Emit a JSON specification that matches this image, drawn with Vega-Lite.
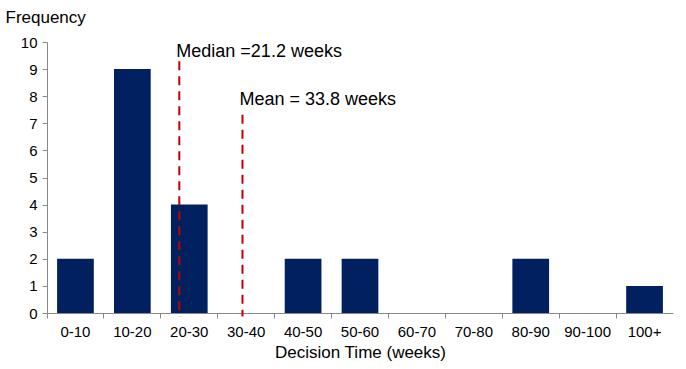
{
  "$schema": "https://vega.github.io/schema/vega-lite/v6.json",
  "width": 626,
  "height": 271,
  "autosize": {"type": "none"},
  "padding": {"left": 47, "top": 42, "right": 13, "bottom": 56},
  "background": "white",
  "config": {
    "view": {"stroke": null},
    "font": "Liberation Sans",
    "axis": {"grid": false, "domainColor": "#888888", "tickColor": "#888888", "labelColor": "#000000", "titleColor": "#000000", "labelFont": "Liberation Sans", "titleFont": "Liberation Sans", "titleFontWeight": "normal"}
  },
  "datasets": {
    "bins": [
      {"cat": "0-10", "freq": 2},
      {"cat": "10-20", "freq": 9},
      {"cat": "20-30", "freq": 4},
      {"cat": "30-40", "freq": 0},
      {"cat": "40-50", "freq": 2},
      {"cat": "50-60", "freq": 2},
      {"cat": "60-70", "freq": 0},
      {"cat": "70-80", "freq": 0},
      {"cat": "80-90", "freq": 2},
      {"cat": "90-100", "freq": 0},
      {"cat": "100+", "freq": 1}
    ],
    "median": [{"cat": "20-30", "top": 9.29, "bottom": -0.13, "ty": 9.62, "label": "Median =21.2 weeks"}],
    "mean": [{"cat": "30-40", "top": 7.32, "bottom": -0.13, "ty": 7.85, "label": "Mean = 33.8 weeks"}]
  },
  "layer": [
    {
      "data": {"name": "bins"},
      "mark": {"type": "bar", "color": "#002060", "width": {"band": 0.645}},
      "encoding": {
        "x": {
          "field": "cat", "type": "nominal", "sort": null,
          "scale": {"domain": ["0-10","10-20","20-30","30-40","40-50","50-60","60-70","70-80","80-90","90-100","100+"], "paddingInner": 0, "paddingOuter": 0},
          "axis": {"title": "Decision Time (weeks)", "labelAngle": 0, "bandPosition": 0, "tickSize": 5, "labelFontSize": 15, "labelPadding": 6, "titleFontSize": 17, "titlePadding": 5}
        },
        "y": {
          "field": "freq", "type": "quantitative",
          "scale": {"domain": [0, 10], "nice": false},
          "axis": {"title": "Frequency", "values": [0,1,2,3,4,5,6,7,8,9,10], "labelOverlap": false, "tickSize": 5, "labelFontSize": 15, "labelPadding": 5, "titleAngle": 0, "titleX": -42, "titleY": -25, "titleAlign": "left", "titleBaseline": "middle", "titleFontSize": 17}
        }
      }
    },
    {
      "data": {"name": "median"},
      "mark": {"type": "rule", "color": "#C00000", "strokeWidth": 2, "strokeDash": [9, 6]},
      "encoding": {
        "x": {"field": "cat", "type": "nominal", "bandPosition": 0.325},
        "y": {"field": "top", "type": "quantitative", "axis": {"title": "Frequency", "values": [0,1,2,3,4,5,6,7,8,9,10], "labelOverlap": false, "tickSize": 5, "labelFontSize": 15, "labelPadding": 5, "titleAngle": 0, "titleX": -42, "titleY": -25, "titleAlign": "left", "titleBaseline": "middle", "titleFontSize": 17}},
        "y2": {"field": "bottom"}
      }
    },
    {
      "data": {"name": "median"},
      "mark": {"type": "text", "align": "left", "baseline": "middle", "fontSize": 18, "dx": -3, "color": "#000000"},
      "encoding": {
        "x": {"field": "cat", "type": "nominal", "bandPosition": 0.325},
        "y": {"field": "ty", "type": "quantitative", "axis": {"title": "Frequency", "values": [0,1,2,3,4,5,6,7,8,9,10], "labelOverlap": false, "tickSize": 5, "labelFontSize": 15, "labelPadding": 5, "titleAngle": 0, "titleX": -42, "titleY": -25, "titleAlign": "left", "titleBaseline": "middle", "titleFontSize": 17}},
        "text": {"field": "label"}
      }
    },
    {
      "data": {"name": "mean"},
      "mark": {"type": "rule", "color": "#C00000", "strokeWidth": 2, "strokeDash": [9, 6]},
      "encoding": {
        "x": {"field": "cat", "type": "nominal", "bandPosition": 0.435},
        "y": {"field": "top", "type": "quantitative", "axis": {"title": "Frequency", "values": [0,1,2,3,4,5,6,7,8,9,10], "labelOverlap": false, "tickSize": 5, "labelFontSize": 15, "labelPadding": 5, "titleAngle": 0, "titleX": -42, "titleY": -25, "titleAlign": "left", "titleBaseline": "middle", "titleFontSize": 17}},
        "y2": {"field": "bottom"}
      }
    },
    {
      "data": {"name": "mean"},
      "mark": {"type": "text", "align": "left", "baseline": "middle", "fontSize": 18, "dx": -3, "color": "#000000"},
      "encoding": {
        "x": {"field": "cat", "type": "nominal", "bandPosition": 0.435},
        "y": {"field": "ty", "type": "quantitative", "axis": {"title": "Frequency", "values": [0,1,2,3,4,5,6,7,8,9,10], "labelOverlap": false, "tickSize": 5, "labelFontSize": 15, "labelPadding": 5, "titleAngle": 0, "titleX": -42, "titleY": -25, "titleAlign": "left", "titleBaseline": "middle", "titleFontSize": 17}},
        "text": {"field": "label"}
      }
    }
  ]
}
